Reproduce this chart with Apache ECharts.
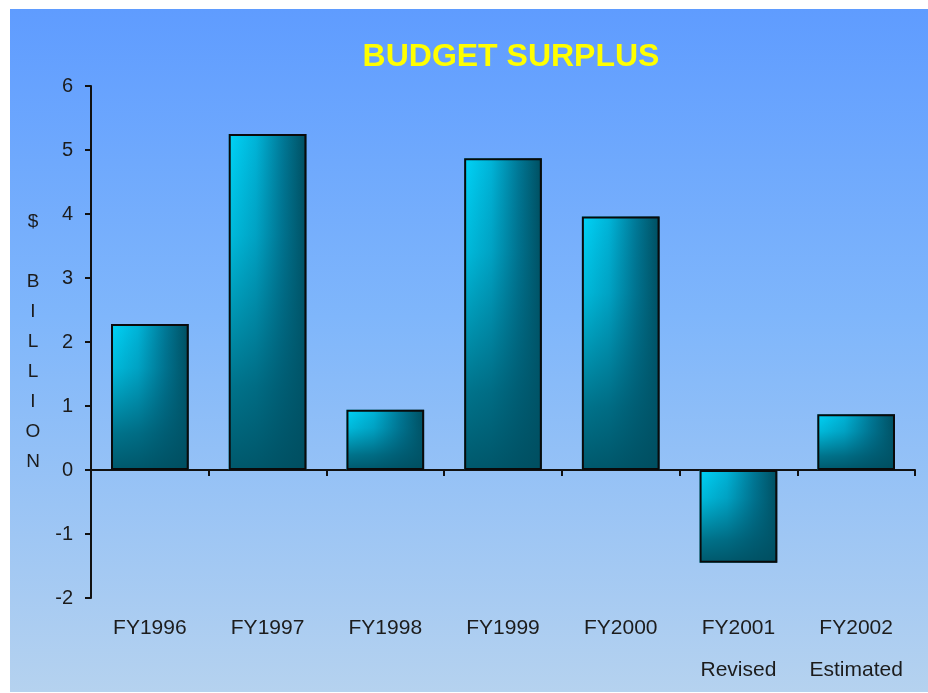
<!DOCTYPE html>
<html>
<head>
<meta charset="utf-8">
<script src="https://cdn.jsdelivr.net/npm/echarts@6/dist/echarts.min.js"></script>
<style>
html,body{margin:0;padding:0;background:#fff;}
#c{width:928px;height:693px;}
</style>
</head>
<body>
<div id="c"></div>
<script>
var categories = ['FY1996', 'FY1997', 'FY1998', 'FY1999', 'FY2000', 'FY2001\nRevised', 'FY2002\nEstimated'];
var surplus = [2.28, 5.25, 0.94, 4.87, 3.96, -1.45, 0.87];
var yTicks = [-2, -1, 0, 1, 2, 3, 4, 5, 6];
var titleText = 'BUDGET SURPLUS';
var yName = ['$', '', 'B', 'I', 'L', 'L', 'I', 'O', 'N'];

var chart = echarts.init(document.getElementById('c'), null, {renderer: 'canvas'});
var font = '"Liberation Sans", Arial, sans-serif';
var baseGrad = new echarts.graphic.LinearGradient(0, 0, 1, 0, [
  {offset: 0, color: '#00d4f8'},
  {offset: 0.35, color: '#00b4d8'},
  {offset: 0.7, color: '#007896'},
  {offset: 1, color: '#004e60'}
]);
var shadeGrad = new echarts.graphic.LinearGradient(0, 0, 0, 1, [
  {offset: 0, color: 'rgba(0,80,100,0)'},
  {offset: 0.3, color: 'rgba(0,90,112,0.2)'},
  {offset: 0.75, color: 'rgba(0,84,104,0.75)'},
  {offset: 1, color: 'rgba(0,78,96,0.92)'}
]);
chart.setOption({
  animation: false,
  graphic: [{
    type: 'rect', z: -10, silent: true,
    shape: {x: 10, y: 9, width: 918, height: 683},
    style: {
      fill: new echarts.graphic.LinearGradient(0, 0, 0, 1, [
        {offset: 0, color: '#5f9cff'},
        {offset: 0.45, color: '#7fb6fb'},
        {offset: 1, color: '#b5d2ef'}
      ])
    }
  }],
  title: {
    text: titleText, left: 506, top: 52, textAlign: 'center', textVerticalAlign: 'middle',
    textStyle: {color: '#ffff00', fontSize: 32, fontWeight: 'bold', fontFamily: font}
  },
  grid: {left: 91, right: 13, top: 86, bottom: 95, containLabel: false},
  xAxis: [{
    type: 'category', data: categories, position: 'bottom',
    axisLine: {onZero: true, lineStyle: {color: '#111', width: 2}},
    axisTick: {show: true, alignWithLabel: false, interval: 0, length: 6, lineStyle: {color: '#111', width: 2}},
    axisLabel: {show: false}, splitLine: {show: false}
  }, {
    type: 'category', data: categories, position: 'bottom',
    axisLine: {show: false, onZero: false}, axisTick: {show: false},
    axisLabel: {show: true, interval: 0, margin: 9, color: '#1c1c1c', fontSize: 21, fontFamily: font, lineHeight: 42, verticalAlign: 'top'},
    splitLine: {show: false}
  }],
  yAxis: {
    type: 'value', min: yTicks[0], max: yTicks[yTicks.length - 1], interval: 1,
    name: yName.join('\n'), nameLocation: 'middle', nameRotate: 0, nameGap: 58,
    nameTextStyle: {color: '#1c1c1c', fontSize: 19, fontFamily: font, lineHeight: 30, align: 'center', verticalAlign: 'middle'},
    axisLine: {show: true, lineStyle: {color: '#111', width: 2}},
    axisTick: {show: true, length: 6, lineStyle: {color: '#111', width: 2}},
    axisLabel: {margin: 18, color: '#1c1c1c', fontSize: 20, fontFamily: font},
    splitLine: {show: false}
  },
  series: [{
    type: 'bar', xAxisIndex: 0, data: surplus, barWidth: '66%', barGap: '-100%',
    itemStyle: {color: baseGrad, borderWidth: 0}
  }, {
    type: 'bar', xAxisIndex: 0, data: surplus, barWidth: '66%', barGap: '-100%',
    itemStyle: {color: shadeGrad, borderColor: '#0a0a0a', borderWidth: 2}
  }]
});
</script>
</body>
</html>
